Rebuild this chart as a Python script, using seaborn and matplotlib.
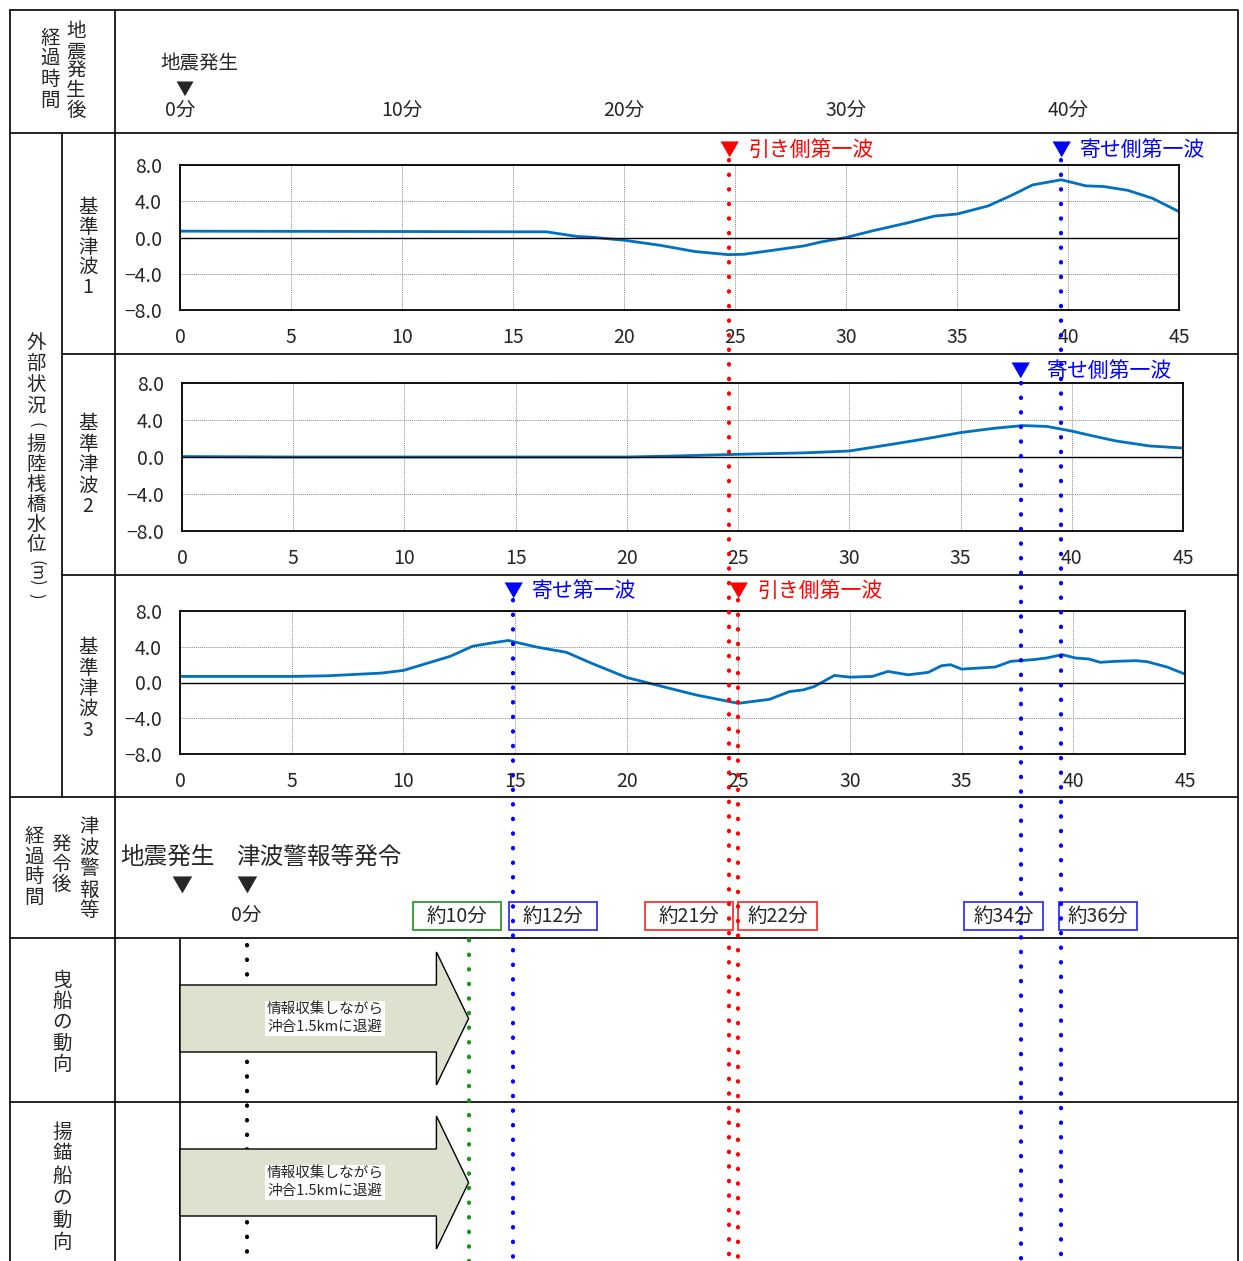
import matplotlib
matplotlib.use('Agg')
import seaborn as sns
import matplotlib.pyplot as plt
from matplotlib.patches import Polygon, Rectangle
from matplotlib.transforms import blended_transform_factory as blend

# -----------------------------
# Data (minutes after quake, water level m)
# -----------------------------
t1 = [0, 5, 10, 15, 16.5, 17.9, 18.5, 20, 21.6, 23.2, 24.7, 25.4, 26.5, 28.1, 28.9, 30,
      31.2, 32.8, 34.0, 35, 36.4, 37.5, 38.4, 39.7, 40.8, 41.6, 42.7, 43.8, 45]
h1 = [0.70, 0.68, 0.66, 0.63, 0.63, 0.11, 0.04, -0.30, -0.85, -1.55, -1.89, -1.85, -1.48, -0.93, -0.48, 0.0,
      0.74, 1.63, 2.37, 2.59, 3.48, 4.7, 5.8, 6.37, 5.7, 5.63, 5.2, 4.33, 2.85]

t2 = [0, 5, 10, 15, 20, 22, 25, 28, 30, 31.9, 33.5, 35, 36.5, 37.8, 38.9, 40, 41, 42, 43.5, 45]
h2 = [0.05, 0.0, 0.0, 0.0, 0.0, 0.1, 0.29, 0.45, 0.65, 1.37, 2.0, 2.64, 3.1, 3.4, 3.3, 2.8, 2.25, 1.73, 1.19, 0.97]

t3 = [0, 5, 6.6, 9, 10, 12.1, 13.1, 14, 14.7, 16.0, 17.3, 18.4, 20, 21.6, 23.1, 25, 26.4, 27.3, 27.9,
      28.4, 29.3, 30, 31.0, 31.7, 32.6, 33.5, 34.1, 34.5, 35, 36.5, 37.2, 38.2, 38.8, 39.5, 40.1, 40.7,
      41.2, 41.9, 42.8, 43.3, 44.2, 45]
h3 = [0.68, 0.68, 0.75, 1.05, 1.35, 2.93, 4.06, 4.44, 4.7, 3.95, 3.38, 2.18, 0.56, -0.45, -1.39, -2.33, -1.88, -1.01, -0.83,
      -0.45, 0.79, 0.6, 0.68, 1.24, 0.86, 1.13, 1.88, 1.99, 1.5, 1.73, 2.37, 2.56, 2.74, 3.12, 2.74, 2.63,
      2.26, 2.37, 2.44, 2.33, 1.73, 0.94]

panel_names = ['基準津波1', '基準津波2', '基準津波3']
y_ticks = [-8, -4, 0, 4, 8]
x_ticks = [0, 5, 10, 15, 20, 25, 30, 35, 40, 45]
header_minutes = [0, 10, 20, 30, 40]

# first-wave events: time, panel, colour, label
event_times = [24.75, 39.7, 37.7, 14.9, 25.0]
event_panels = [0, 0, 1, 2, 2]
event_colors = ['red', 'blue', 'blue', 'blue', 'red']
event_labels = ['引き側第一波', '寄せ側第一波', '寄せ側第一波', '寄せ第一波', '引き側第一波']

warning_time = 3.0      # tsunami warning issued
evacuate_time = 13.0    # ships reach 1.5 km offshore

box_labels = ['約10分', '約12分', '約21分', '約22分', '約34分', '約36分']
box_colors = ['#2e9a2e', '#3333ff', '#ff3333', '#ff3333', '#3333ff', '#3333ff']

# -----------------------------
# Figure setup
# -----------------------------
sns.set_style('white')
plt.rcParams['font.family'] = ['Noto Sans CJK JP', 'DejaVu Sans']

W, H = 1243, 1261
fig = plt.figure(figsize=(W / 100, H / 100), dpi=100)

bg = fig.add_axes([0, 0, 1, 1], zorder=0)
bg.set_xlim(0, W)
bg.set_ylim(H, 0)
bg.axis('off')


def px_rect(l, t, r, b):
    return [l / W, 1 - b / H, (r - l) / W, (b - t) / H]


panel_boxes = [(180, 165, 1179, 310), (182, 383, 1183, 531), (180, 611, 1185, 754)]
series = [(t1, h1), (t2, h2), (t3, h3)]
axes = []
for (l, t, r, b), (tx, hy) in zip(panel_boxes, series):
    ax = fig.add_axes(px_rect(l, t, r, b), zorder=2)
    sns.lineplot(x=tx, y=hy, ax=ax, color='#0070C0', linewidth=2.0)
    ax.set_xlim(0, 45)
    ax.set_ylim(-8, 8)
    ax.set_xticks(x_ticks)
    ax.set_yticks(y_ticks)
    ax.set_yticklabels([f'{v:.1f}'.replace('-', '\u2212') for v in y_ticks])
    ax.grid(True, color='#8a8a8a', linestyle=(0, (1, 1)), linewidth=0.7)
    ax.axhline(0, color='black', linewidth=1.0)
    ax.tick_params(length=0, labelsize=14, pad=12)
    ax.tick_params(axis='y', pad=13)
    for s in ax.spines.values():
        s.set_color('black')
        s.set_linewidth(1.3)
    ax.set_xlabel('')
    ax.set_ylabel('')
    axes.append(ax)

fg = fig.add_axes([0, 0, 1, 1], zorder=5)
fg.set_xlim(0, W)
fg.set_ylim(H, 0)
fg.axis('off')

# -----------------------------
# Table lines
# -----------------------------
lk = dict(color='black', linewidth=1.2)
bg.plot([10, 1238, 1238], [10, 10, H], **lk)
bg.plot([10, 10], [10, H], **lk)
bg.plot([115, 115], [10, H], **lk)
bg.plot([62, 62], [133, 797], **lk)
bg.plot([180, 180], [938, H], **lk)
for y in [133, 797, 938, 1102]:
    bg.plot([10, 1238], [y, y], **lk)
for y in [354, 575]:
    bg.plot([62, 1238], [y, y], **lk)


def vtext(ax, x, y0, step, s, size=14):
    for i, ch in enumerate(s):
        ax.text(x, y0 + i * step, ch, ha='center', va='center', fontsize=size)


vtext(bg, 50, 38, 20.7, '経過時間')
vtext(bg, 76, 32, 19.5, '地震発生後')
for s, y0, step in zip(panel_names, [208, 423, 648], [19.8, 21, 20.5]):
    vtext(bg, 88, y0, step, s)
vtext(bg, 34, 837, 20, '経過時間')
vtext(bg, 61, 845, 20, '発令後')
vtext(bg, 89, 827, 21, '津波警報等')
vtext(bg, 62, 980, 21.2, '曳船の動向')
vtext(bg, 62, 1132, 22, '揚錨船の動向')

# vertical label with rotated brackets
ext_tokens = ['外', '部', '状', '況', '(', '揚', '陸', '桟', '橋', '水', '位', '(m)', ')']
ext_y = [342, 363, 385, 406, 425, 444, 464, 484, 504, 524, 545, 573, 596]
for ch, y in zip(ext_tokens, ext_y):
    small = ch in ['(', ')', '(m)']
    bg.text(36, y, ch, ha='center', va='center', fontsize=12 if small else 14,
            rotation=-90 if small else 0)

# -----------------------------
# Header time scale
# -----------------------------
tr0 = blend(axes[0].transData, bg.transData)
bg.text(160, 64, '地震発生', ha='left', va='center', fontsize=14)
bg.text(0.2, 90, '▼', transform=tr0, ha='center', va='center', fontsize=13)
for m in header_minutes:
    bg.text(m, 110, f'{m}分', transform=tr0, ha='center', va='center', fontsize=14)

# bottom header
bg.text(120, 857, '地震発生', ha='left', va='center', fontsize=17)
bg.text(236, 857, '津波警報等発令', ha='left', va='center', fontsize=17)
bg.text(0.1, 886, '▼', transform=tr0, ha='center', va='center', fontsize=15)
bg.text(warning_time, 886, '▼', transform=tr0, ha='center', va='center', fontsize=15)
bg.text(warning_time, 915, '0分', transform=tr0, ha='center', va='center', fontsize=14)

box_left = [413, 509, 645, 738, 964, 1059]
box_width = [88, 88, 88, 79, 79, 78]
for lab, c, l, w in zip(box_labels, box_colors, box_left, box_width):
    fg.add_patch(Rectangle((l, 902), w, 28, facecolor='white', edgecolor=c, linewidth=1.3, zorder=1))
    fg.text(l + w / 2, 916, lab, ha='center', va='center', fontsize=14, zorder=2)

# -----------------------------
# Event lines and markers
# -----------------------------
dot = dict(linewidth=3, linestyle=(0, (0.1, 3.4)), dash_capstyle='round', clip_on=False)
label_y = [150, 371, 591]
line_top = [160, 383, 600]
for t, p, c, lab in zip(event_times, event_panels, event_colors, event_labels):
    tr = blend(axes[p].transData, fg.transData)
    fg.plot([t, t], [line_top[p], H], transform=tr, color=c, zorder=6, **dot)
    fg.text(t, label_y[p], '▼', transform=tr, ha='center', va='center', fontsize=14, color=c, zorder=7)
    off = 19 if p != 1 else 26
    fg.annotate(lab, xy=(t, label_y[p]), xycoords=tr, xytext=(off * 0.72, 0), textcoords='offset points',
                ha='left', va='center', fontsize=15, color=c, zorder=7)

trf = blend(axes[0].transData, fg.transData)
fg.plot([warning_time, warning_time], [945, H], transform=trf, color='black', zorder=3, **dot)
fg.plot([evacuate_time, evacuate_time], [940, H], transform=trf, color='#119911', zorder=6, **dot)

# evacuation arrows
for c in [1018.5, 1182.5]:
    verts = [(0, c - 33.5), (11.55, c - 33.5), (11.55, c - 66.5), (evacuate_time, c),
             (11.55, c + 66.5), (11.55, c + 33.5), (0, c + 33.5)]
    fg.add_patch(Polygon(verts, closed=True, transform=trf, facecolor='#dde2cf',
                         edgecolor='black', linewidth=1.0, zorder=4, clip_on=False))
    fg.text(325, c, '情報収集しながら\n沖合1.5kmに退避', ha='center', va='center', fontsize=10.5,
            linespacing=1.3, zorder=5, bbox=dict(facecolor='white', edgecolor='none', pad=1))

plt.savefig('out.png', dpi=100)
